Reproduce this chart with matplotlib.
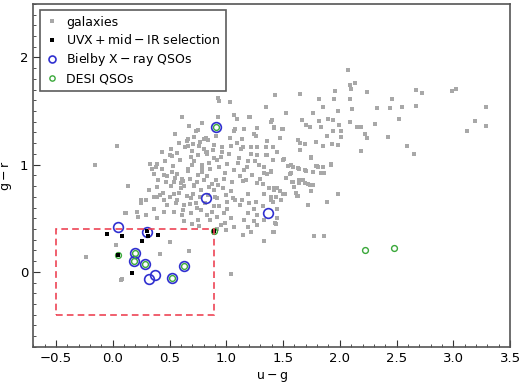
import numpy as np
import matplotlib
matplotlib.use("Agg")
import matplotlib.pyplot as plt
from matplotlib.patches import Rectangle
from matplotlib.ticker import MultipleLocator

# galaxies (u-g, g-r)
gal_ug = [
    2.07, 2.09, 2.13, 2.10, 1.96, 2.24, 2.67, 2.72, 2.99, 3.02, 1.43, 1.65, 1.82, 1.95, 2.09, 2.46,
    1.35, 1.85, 2.11, 2.33, 2.44, 2.55, 2.67, 3.29, 1.53, 1.76, 1.98, 1.40, 1.67, 1.82, 1.90, 1.94,
    2.09, 2.52, 3.19, 3.29, 3.12, 1.42, 1.50, 1.70, 1.74, 1.83, 1.99, 2.15, 2.19, 2.31, 2.01, 2.01,
    1.89, 1.94, 2.22, 2.24, 2.42, 1.63, 1.65, 1.79, 1.85, 1.93, 1.98, 1.69, 1.65, 2.19, 2.59, 2.65,
    1.35, 1.45, 1.75, 1.41, 1.50, 1.54, 1.59, 1.79, 1.81, 1.92, 1.33, 1.39, 1.63, 1.70, 1.76, 1.83,
    1.86, 1.57, 1.36, 1.59, 1.68, 1.64, 1.72, 1.76, 1.75, 1.98, 1.38, 1.42, 1.45, 1.50, 1.62, 1.39,
    1.33, 1.42, 1.77, 1.86, 1.33, 1.43, 1.72, 1.89, 1.63, 1.45, 1.41,
    -0.24, 0.08, 0.03, 0.42, 1.04, 0.11, 0.21, 0.67, 0.50, 0.25, 0.39,
    0.04, -0.16, 0.13, 0.12, 0.07,
    0.61, 0.93, 0.94, 1.03, 1.07, 1.09, 1.20, 0.93, 0.75, 0.72, 0.80, 1.07, 1.24, 0.66, 0.89, 0.83,
    0.95, 0.50, 0.39, 0.35, 1.22, 1.13,
    1.21, 1.16, 1.27, 1.39, 1.42, 1.49, 1.26, 1.15, 1.22, 1.27, 1.35, 1.41,
    0.52, 0.33, 0.43, 0.36, 0.45, 0.48, 0.57, 0.61, 0.54, 0.60, 0.63, 0.51, 0.39, 0.32, 0.44, 0.54,
    0.36, 0.29, 0.25, 0.45, 0.57, 0.63, 0.69, 0.73, 0.36, 0.45, 0.54, 0.61, 0.69, 0.78, 0.83, 0.75,
    0.86, 0.92, 0.98, 1.04, 0.95, 0.89, 1.00, 1.07, 0.22, 0.29, 0.39, 0.69, 0.75, 0.83, 0.89, 0.95,
    0.70, 0.79, 0.86, 0.94, 1.01, 1.07, 0.75, 0.83, 0.91, 0.98, 1.05, 0.72, 0.78, 0.89, 0.97, 1.04,
    0.92, 1.01, 1.08, 0.89, 1.01,
    1.27, 1.36, 1.45, 1.19, 1.29, 1.41, 1.51, 1.57, 1.64, 1.69, 1.76, 1.80, 1.85, 1.92, 1.75, 1.83,
    1.16, 1.23, 1.33, 1.39, 1.56, 1.58, 1.64, 1.69, 1.74, 1.60, 1.61, 1.75, 1.98, 1.17, 1.27, 1.32,
    1.42, 1.47, 1.52, 1.33, 1.19, 1.14, 1.20, 1.26, 1.39, 1.44, 1.48, 1.72, 1.89, 1.32, 1.24, 1.45,
    1.19, 1.27, 1.16, 1.24, 1.33, 1.45, 1.19, 1.27, 1.41, 1.44, 1.15, 1.22,
    0.73, 0.66, 0.82, 1.03, 1.08, 0.80, 0.96, 1.04,
    # dense core
    0.40, 0.47, 0.55, 0.62, 0.68, 0.74, 0.80, 0.87, 0.42, 0.50, 0.58, 0.65, 0.71, 0.77, 0.84, 0.90,
    0.38, 0.46, 0.53, 0.59, 0.66, 0.72, 0.79, 0.85, 0.92, 0.99, 0.43, 0.51, 0.57, 0.64, 0.70, 0.76,
    0.82, 0.88, 0.96, 1.02, 1.10, 0.48, 0.56, 0.62, 0.68, 0.74, 0.81, 0.87, 0.94, 1.00, 1.12, 0.52,
    0.60, 0.66, 0.72, 0.79, 0.85, 0.93, 1.06, 1.11, 1.18, 0.58, 0.65, 0.71, 0.77, 0.84, 1.09, 1.15,
    0.63, 0.70, 0.76, 0.92, 0.99, 1.12, 0.55, 0.67, 0.79, 0.91, 1.14, 1.25, 1.30, 1.36, 1.47, 1.53,
]
gal_gr = [
    1.88, 1.74, 1.76, 1.71, 1.69, 1.68, 1.70, 1.67, 1.69, 1.71, 1.65, 1.66, 1.61, 1.61, 1.61, 1.61,
    1.54, 1.54, 1.52, 1.53, 1.53, 1.54, 1.55, 1.54, 1.48, 1.48, 1.50, 1.42, 1.42, 1.41, 1.43, 1.42,
    1.40, 1.43, 1.41, 1.36, 1.31, 1.35, 1.33, 1.37, 1.35, 1.35, 1.37, 1.35, 1.35, 1.38, 1.31, 1.26,
    1.27, 1.31, 1.29, 1.25, 1.26, 1.23, 1.20, 1.21, 1.17, 1.19, 1.18, 1.19, 1.14, 1.13, 1.17, 1.10,
    1.09, 1.12, 1.06, 1.04, 1.04, 0.99, 0.98, 0.99, 0.98, 1.01, 0.98, 0.94, 0.97, 0.94, 0.93, 0.92,
    0.92, 0.92, 0.91, 0.84, 0.86, 0.83, 0.82, 0.81, 0.75, 0.73, 0.78, 0.76, 0.78, 0.73, 0.71, 0.70,
    0.73, 0.37, 0.33, 0.33, 0.29, 0.46, 0.62, 0.65, 0.71, 0.59, 0.65,
    0.14, -0.07, 0.25, 0.17, -0.02, 0.55, 0.56, 0.19, 0.28, 0.67, 0.70,
    1.17, 1.00, 0.80, 0.55, -0.08,
    1.44, 1.62, 1.59, 1.58, 1.46, 1.43, 1.44, 1.44, 1.32, 1.26, 1.24, 1.31, 1.29, 1.17, 1.18, 1.12,
    1.07, 1.09, 1.01, 0.96, 1.10, 1.15,
    1.44, 1.33, 1.34, 1.40, 1.34, 1.33, 1.27, 1.16, 1.16, 1.16, 1.16, 1.16,
    1.08, 1.01, 0.96, 0.91, 0.90, 0.89, 0.91, 0.87, 0.84, 0.83, 0.80, 0.80, 0.79, 0.76, 0.74, 0.73,
    0.70, 0.67, 0.64, 0.67, 0.67, 0.62, 0.69, 0.64, 0.59, 0.56, 0.56, 0.53, 0.55, 0.58, 0.53, 0.48,
    0.48, 0.51, 0.55, 0.50, 0.44, 0.36, 0.39, 0.42, 0.51, 0.53, 0.50, 1.07, 1.09, 1.10, 1.06, 1.07,
    1.00, 1.00, 0.96, 0.98, 1.01, 0.95, 0.90, 0.89, 0.86, 0.87, 0.84, 0.81, 0.76, 0.76, 0.78, 0.75,
    0.69, 0.65, 0.67, 0.61, 0.59,
    1.09, 1.09, 1.12, 1.03, 1.00, 1.04, 1.05, 1.00, 0.96, 0.95, 0.93, 0.99, 0.98, 1.00, 1.07, 0.92,
    0.95, 0.90, 0.92, 0.93, 0.91, 0.84, 0.86, 0.83, 0.81, 0.79, 0.74, 0.75, 0.73, 0.86, 0.83, 0.82,
    0.78, 0.75, 0.73, 0.73, 0.73, 0.67, 0.64, 0.65, 0.67, 0.70, 0.67, 0.62, 0.65, 0.61, 0.59, 0.59,
    0.55, 0.53, 0.48, 0.47, 0.48, 0.50, 0.42, 0.44, 0.37, 0.45, 0.34, 0.37,
    1.31, 1.24, 1.25, 1.25, 1.33, 1.15, 1.16, 1.17,
    # dense core
    0.86, 0.84, 0.88, 0.85, 0.87, 0.84, 0.86, 0.82, 0.72, 0.70, 0.74, 0.71, 0.73, 0.70, 0.72, 0.70,
    0.98, 1.03, 0.99, 1.04, 0.96, 1.03, 0.97, 1.02, 1.04, 0.92, 1.12, 1.15, 1.11, 1.16, 1.13, 1.17,
    1.12, 1.14, 1.12, 1.10, 1.02, 0.62, 0.64, 0.58, 0.63, 0.60, 0.64, 0.56, 0.61, 0.72, 0.89, 0.93,
    0.78, 0.94, 0.80, 0.93, 0.79, 0.81, 0.69, 1.06, 0.98, 1.20, 1.22, 1.19, 1.21, 1.23, 1.20, 0.85,
    0.47, 0.45, 0.43, 0.40, 0.46, 0.62, 1.29, 1.36, 1.39, 1.27, 1.24, 1.03, 0.87, 1.22, 1.25, 0.88,
]

# UVX + mid-IR selection
uvx_ug = [-0.05, 0.08, 0.30, 0.31, 0.26, 0.40, 0.05, 0.17, 0.89]
uvx_gr = [0.35, 0.33, 0.38, 0.33, 0.29, 0.34, 0.16, -0.01, 0.38]

# Bielby X-ray QSOs
biel_ug = [0.91, 0.82, 1.37, 0.05, 0.30, 0.20, 0.19, 0.28, 0.63, 0.52, 0.32, 0.37]
biel_gr = [1.35, 0.69, 0.55, 0.42, 0.37, 0.18, 0.10, 0.07, 0.05, -0.06, -0.07, -0.03]

# DESI QSOs
desi_ug = [0.91, 0.05, 0.89, 0.20, 0.19, 0.28, 0.63, 0.52, 2.22, 2.48]
desi_gr = [1.35, 0.16, 0.38, 0.18, 0.10, 0.07, 0.05, -0.06, 0.20, 0.22]

# selection box
box_x = [-0.5, 0.89]
box_y = [-0.4, 0.4]

fig = plt.figure(figsize=(5.2, 3.85), dpi=100)
ax = fig.add_axes([0.064, 0.099, 0.917, 0.891])

ax.plot(gal_ug, gal_gr, 's', color='#a8a8a8', ms=2.5, mew=0, label='galaxies', zorder=2)
ax.plot(uvx_ug, uvx_gr, 's', color='black', ms=2.6, mew=0,
        label=r'$\mathrm{UVX + mid - IR}$ selection', zorder=5)
ax.plot(biel_ug, biel_gr, 'o', mfc='none', mec='#3030d0', ms=7, mew=1.2,
        label=r'$\mathrm{Bielby\ X - ray}$ QSOs', zorder=3)
ax.plot(desi_ug, desi_gr, 'o', mfc='none', mec='#3aa83a', ms=4.2, mew=1.0,
        label='DESI QSOs', zorder=4)

ax.add_patch(Rectangle((box_x[0], box_y[0]), box_x[1] - box_x[0], box_y[1] - box_y[0],
                       fill=False, ec='#ee4455', lw=1.2, ls=(0, (4, 2.5)), zorder=6))

ax.set_xlim(-0.7, 3.5)
ax.set_ylim(-0.7, 2.5)
ax.xaxis.set_major_locator(MultipleLocator(0.5))
ax.xaxis.set_minor_locator(MultipleLocator(0.1))
ax.yaxis.set_major_locator(MultipleLocator(1))
ax.yaxis.set_minor_locator(MultipleLocator(0.1))
ax.tick_params(which='both', direction='in', top=False, right=False, labelsize=9.5,
               colors='#333333', labelcolor='black')
ax.tick_params(which='major', length=5)
ax.tick_params(which='minor', length=2.5)
for s in ax.spines.values():
    s.set_color('#555555')
    s.set_linewidth(1.2)

ax.set_xlabel(r'$\mathrm{u - g}$', fontsize=9)
ax.set_ylabel(r'$\mathrm{g - r}$', fontsize=9)

leg = ax.legend(loc='upper left', fontsize=9, frameon=True, fancybox=False,
                edgecolor='#333333', handletextpad=0.6, borderpad=0.45,
                labelspacing=0.35, handlelength=1.1)
leg.get_frame().set_linewidth(1.2)
# legend marker sizes as in the reference
for h, ms in zip(leg.legend_handles, [2.2, 2.6, 5.0, 3.8]):
    h.set_markersize(ms)

fig.savefig('out.png', dpi=100)
